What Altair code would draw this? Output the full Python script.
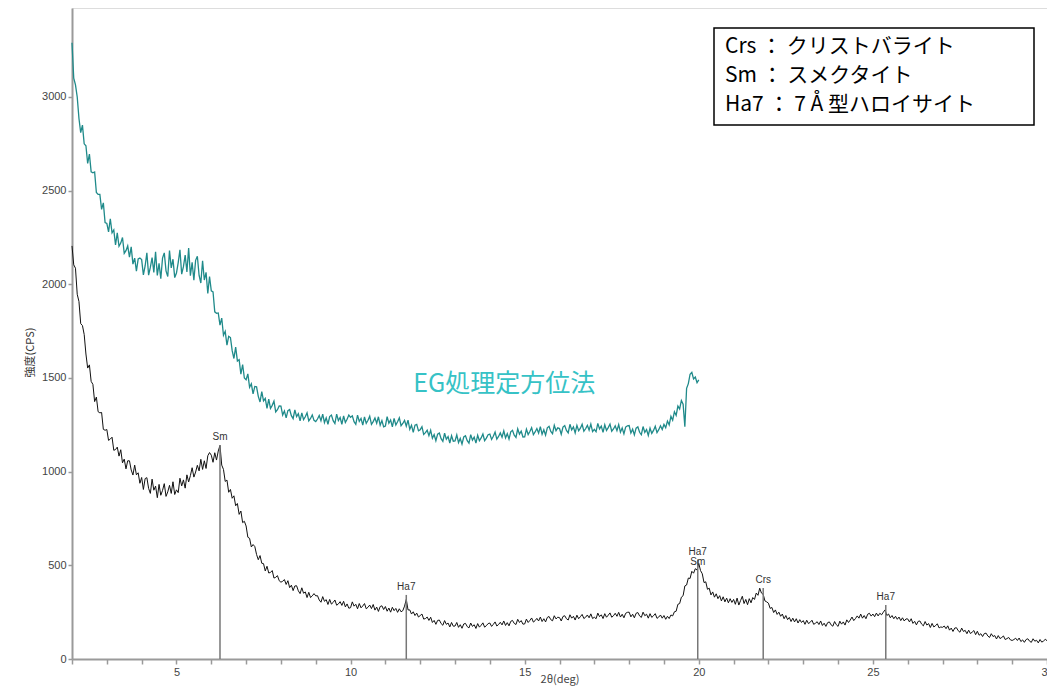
import altair as alt
import pandas as pd

# ---- data (step 0.05 deg) ----
x_start = 2.0
x_step = 0.05

black_cps = [
    # 2.00 - 2.95
    2205, 2104, 2086, 1947, 1908, 1790, 1780, 1732, 1628, 1553, 1570, 1482, 1466, 1374, 1398, 1320, 1314, 1316, 1226, 1221,
    # 3.00 - 3.95
    1225, 1167, 1174, 1184, 1114, 1118, 1131, 1083, 1117, 1047, 1067, 1015, 1058, 1058, 1009, 982, 1035, 983, 994, 938,
    # 4.00 - 4.95
    969, 905, 963, 968, 911, 884, 960, 901, 923, 861, 932, 874, 900, 936, 868, 892, 927, 884, 946, 878,
    # 5.00 - 5.95
    903, 888, 965, 924, 956, 912, 983, 945, 979, 1021, 971, 998, 1034, 1004, 1066, 1012, 1058, 1017, 1085, 1102,
    # 6.00 - 6.95
    1088, 1050, 1101, 1062, 1110, 1140, 1035, 1012, 948, 955, 890, 905, 858, 871, 818, 830, 772, 790, 728, 735,
    # 7.00 - 7.95
    710, 650, 644, 598, 611, 600, 558, 530, 552, 511, 509, 470, 495, 459, 462, 472, 432, 436, 445, 418,
    # 8.00 - 8.95
    410, 415, 424, 398, 418, 381, 394, 365, 390, 391, 364, 349, 380, 351, 358, 328, 356, 328, 337, 349,
    # 9.00 - 9.95
    337, 338, 315, 303, 333, 308, 317, 291, 318, 293, 302, 315, 287, 294, 306, 286, 308, 278, 294, 271,
    # 10.00 - 10.95
    274, 305, 282, 292, 268, 296, 273, 283, 296, 268, 276, 288, 269, 291, 261, 277, 254, 280, 284, 264,
    # 11.00 - 11.95
    280, 255, 272, 250, 276, 258, 270, 249, 268, 252, 258, 282, 318, 262, 262, 240, 252, 232, 245, 224,
    # 12.00 - 12.95
    232, 240, 213, 216, 224, 206, 223, 195, 206, 185, 206, 208, 189, 180, 205, 185, 192, 171, 195, 175,
    # 13.00 - 13.95
    176, 195, 169, 183, 164, 187, 190, 173, 166, 192, 174, 183, 163, 189, 170, 180, 193, 170, 178, 189,
    # 14.00 - 14.95
    192, 174, 185, 198, 176, 184, 196, 182, 203, 179, 194, 177, 201, 206, 190, 184, 212, 195, 205, 186,
    # 15.00 - 15.95
    187, 213, 195, 206, 219, 197, 205, 217, 203, 224, 200, 215, 198, 222, 227, 210, 204, 231, 214, 223,
    # 16.00 - 16.95
    221, 203, 227, 231, 215, 208, 236, 218, 228, 208, 234, 215, 226, 238, 216, 223, 235, 220, 241, 216,
    # 17.00 - 17.95
    223, 215, 245, 226, 236, 216, 242, 223, 234, 246, 223, 231, 244, 228, 249, 224, 239, 220, 244, 249,
    # 18.00 - 18.95
    250, 225, 239, 220, 244, 248, 230, 222, 250, 231, 239, 218, 242, 222, 231, 242, 217, 224, 235, 218,
    # 19.00 - 19.95
    232, 212, 228, 216, 235, 230, 252, 255, 292, 296, 330, 338, 390, 395, 432, 430, 468, 458, 482, 475,
    # 20.00 - 20.95
    510, 472, 455, 408, 412, 372, 378, 342, 358, 330, 348, 322, 338, 310, 332, 305, 325, 300, 322, 302,
    # 21.00 - 21.95
    318, 292, 325, 288, 312, 335, 296, 318, 290, 322, 300, 328, 318, 352, 340, 378, 352, 345, 310, 305,
    # 22.00 - 22.95
    298, 270, 275, 248, 262, 238, 250, 228, 240, 215, 232, 210, 222, 200, 218, 198, 215, 192, 210, 195,
    # 23.00 - 23.95
    205, 185, 207, 189, 196, 207, 185, 191, 199, 184, 203, 179, 191, 174, 194, 198, 182, 175, 200, 183,
    # 24.00 - 24.95
    174, 202, 186, 198, 181, 209, 195, 208, 224, 205, 216, 230, 218, 240, 218, 232, 215, 239, 244, 229,
    # 25.00 - 25.95
    240, 226, 245, 230, 244, 236, 250, 262, 232, 240, 220, 232, 215, 228, 212, 224, 205, 220, 203, 214,
    # 26.00 - 26.95
    214, 198, 215, 190, 201, 182, 201, 203, 186, 177, 200, 181, 189, 168, 190, 171, 178, 188, 166, 171,
    # 27.00 - 27.95
    169, 176, 162, 177, 154, 165, 147, 165, 167, 151, 143, 165, 147, 153, 135, 154, 136, 143, 152, 130,
    # 28.00 - 28.95
    148, 127, 135, 120, 136, 138, 123, 115, 135, 120, 125, 107, 125, 109, 115, 123, 104, 109, 115, 102,
    # 29.00 - 29.95
    99, 104, 111, 99, 112, 93, 102, 89, 104, 108, 95, 89, 108, 95, 100, 86, 104, 90, 96, 105,
    # 30.00
    98,
]

teal_cps = [
    # 2.00 - 2.95
    3290, 3100, 3065, 3000, 2885, 2810, 2850, 2750, 2740, 2645, 2695, 2600, 2595, 2600, 2490, 2480, 2480, 2400, 2435, 2330,
    # 3.00 - 3.95
    2325, 2280, 2350, 2275, 2290, 2210, 2275, 2203, 2220, 2250, 2165, 2180, 2205, 2145, 2200, 2108, 2140, 2070, 2135, 2140,
    # 4.00 - 4.95
    2132, 2050, 2098, 2168, 2049, 2090, 2143, 2064, 2173, 2048, 2112, 2030, 2140, 2168, 2072, 2042, 2180, 2088, 2134, 2036,
    # 5.00 - 5.95
    2060, 2116, 2184, 2054, 2094, 2156, 2066, 2194, 2046, 2117, 2022, 2128, 2150, 2047, 2007, 2125, 2023, 2064, 1951, 2042,
    # 6.00 - 6.95
    1965, 1960, 1853, 1845, 1847, 1782, 1820, 1728, 1749, 1675, 1722, 1716, 1646, 1604, 1665, 1591, 1598, 1520, 1572, 1500,
    # 7.00 - 7.95
    1491, 1522, 1450, 1469, 1415, 1455, 1453, 1402, 1372, 1427, 1378, 1391, 1338, 1387, 1338, 1354, 1377, 1319, 1331, 1351,
    # 8.00 - 8.95
    1350, 1302, 1324, 1287, 1326, 1332, 1299, 1283, 1330, 1294, 1309, 1271, 1314, 1278, 1293, 1314, 1271, 1284, 1303, 1274,
    # 9.00 - 9.95
    1267, 1281, 1300, 1272, 1307, 1262, 1287, 1253, 1294, 1302, 1272, 1257, 1307, 1273, 1289, 1253, 1298, 1263, 1280, 1302,
    # 10.00 - 10.95
    1290, 1298, 1267, 1253, 1302, 1268, 1284, 1248, 1292, 1258, 1274, 1296, 1253, 1267, 1286, 1258, 1293, 1248, 1273, 1239,
    # 11.00 - 11.95
    1244, 1294, 1259, 1276, 1239, 1284, 1249, 1266, 1287, 1245, 1257, 1274, 1243, 1275, 1226, 1248, 1210, 1248, 1252, 1218,
    # 12.00 - 12.95
    1224, 1240, 1199, 1208, 1221, 1192, 1221, 1178, 1198, 1165, 1200, 1206, 1176, 1162, 1205, 1173, 1187, 1153, 1192, 1162,
    # 13.00 - 13.95
    1164, 1196, 1155, 1177, 1147, 1185, 1192, 1165, 1152, 1198, 1168, 1184, 1152, 1194, 1165, 1180, 1201, 1165, 1179, 1197,
    # 14.00 - 14.95
    1201, 1172, 1189, 1211, 1174, 1188, 1207, 1184, 1218, 1180, 1203, 1174, 1213, 1221, 1195, 1183, 1229, 1200, 1216, 1185,
    # 15.00 - 15.95
    1186, 1227, 1198, 1214, 1235, 1198, 1212, 1230, 1206, 1240, 1200, 1224, 1195, 1234, 1242, 1215, 1203, 1248, 1219, 1234,
    # 16.00 - 16.95
    1230, 1200, 1238, 1246, 1220, 1207, 1253, 1223, 1239, 1207, 1247, 1218, 1232, 1253, 1216, 1229, 1247, 1222, 1254, 1214,
    # 17.00 - 17.95
    1226, 1213, 1258, 1228, 1243, 1210, 1250, 1220, 1235, 1254, 1216, 1228, 1245, 1219, 1251, 1211, 1233, 1202, 1238, 1245,
    # 18.00 - 18.95
    1246, 1206, 1227, 1196, 1232, 1239, 1210, 1197, 1241, 1210, 1225, 1193, 1232, 1204, 1220, 1242, 1208, 1224, 1245, 1225,
    # 19.00 - 19.95
    1252, 1235, 1270, 1250, 1295, 1275, 1320, 1300, 1350, 1335, 1380, 1360, 1240, 1445, 1470, 1520, 1530, 1495, 1505, 1475,
    # 20.00
    1490,
]

peak_pos = [6.25, 11.6, 19.97, 21.85, 25.37]
peak_top = [1142, 342, 529, 379, 288]
peak_label = ["Sm", "Ha7", "Ha7\nSm", "Crs", "Ha7"]

legend_lines = ["Crs ： クリストバライト", "Sm ： スメクタイト", "Ha7 ： 7 Å 型ハロイサイト"]

sample_label = ["EG処理定方位法"]
sample_label_x = [11.8]
sample_label_y = [1467]

x_ticks = list(range(2, 31))
y_ticks = [0, 500, 1000, 1500, 2000, 2500, 3000]

# ---- tables ----
df_black = pd.DataFrame({
    "x": [round(x_start + i * x_step, 3) for i in range(len(black_cps))],
    "y": black_cps,
})
df_teal = pd.DataFrame({
    "x": [round(x_start + i * x_step, 3) for i in range(len(teal_cps))],
    "y": teal_cps,
})
df_peaks = pd.DataFrame({"x": peak_pos, "y": peak_top, "base": [0] * len(peak_pos), "label": peak_label})
df_sample = pd.DataFrame({"x": sample_label_x, "y": sample_label_y, "t": sample_label})
df_legend = pd.DataFrame({"t": ["\n".join(legend_lines)]})

AXIS_COLOR = "#9a9a9a"
LABEL_COLOR = "#444444"

x_scale = alt.Scale(domain=[2, 30], nice=False, zero=False)
y_scale = alt.Scale(domain=[0, 3475], nice=False)

x_axis = alt.Axis(
    values=x_ticks,
    labelExpr="datum.value % 5 === 0 ? datum.label : ''",
    format="d",
    grid=False,
    domainColor=AXIS_COLOR, domainWidth=2,
    tickColor=AXIS_COLOR, tickWidth=1.5, tickSize=5,
    labelFont="Liberation Sans", labelFontSize=11, labelColor=LABEL_COLOR, labelPadding=2,
    labelFlush=False, labelOverlap=False,
    title="2θ(deg)", titleFont="Noto Sans CJK JP", titleFontSize=11, titleFontWeight="normal",
    titleColor=LABEL_COLOR, titleY=25, titleBaseline="bottom",
)
y_axis = alt.Axis(
    values=y_ticks,
    format="d",
    grid=False,
    domainColor=AXIS_COLOR, domainWidth=2,
    tickColor=AXIS_COLOR, tickWidth=1.5, tickSize=4,
    labelFont="Liberation Sans", labelFontSize=11, labelColor=LABEL_COLOR, labelPadding=2,
    labelFlush=False, labelOverlap=False,
    title="強度(CPS)", titleFont="Noto Sans CJK JP", titleFontSize=11, titleFontWeight="normal",
    titleColor="#333333", titleX=-42, titleY=344, titleBaseline="middle", titleAngle=-90,
)

X = alt.X("x:Q", scale=x_scale, axis=x_axis)
Y = alt.Y("y:Q", scale=y_scale, axis=y_axis)

teal_line = alt.Chart(df_teal).mark_line(color="#1f8a8a", strokeWidth=1.3).encode(x=X, y=Y)
black_line = alt.Chart(df_black).mark_line(color="#111111", strokeWidth=1).encode(x=X, y=Y)
peak_rules = alt.Chart(df_peaks).mark_rule(color="#777777", strokeWidth=1.5).encode(
    x=X, y=Y, y2="base:Q",
)
peak_text = alt.Chart(df_peaks).mark_text(
    font="Liberation Sans", fontSize=10, color="#333333", baseline="bottom",
    dy=-3, lineBreak="\n", lineHeight=10,
).encode(x=X, y=Y, text="label:N")

sample_text = alt.Chart(df_sample).mark_text(
    font="Noto Sans CJK JP", fontSize=25, color="#36c2c6", align="left", baseline="middle",
).encode(x=X, y=Y, text="t:N")

legend_box = alt.Chart(df_legend).mark_rect(fill="white", stroke="black", strokeWidth=1.5).encode(
    x=alt.value(642), x2=alt.value(962), y=alt.value(20), y2=alt.value(117),
)
legend_text = alt.Chart(df_legend).mark_text(
    font="Noto Sans CJK JP", fontSize=21, color="black", align="left", baseline="middle",
    lineBreak="\n", lineHeight=29,
).encode(x=alt.value(653), y=alt.value(39), text="t:N")

chart = alt.layer(
    teal_line, black_line, peak_rules, peak_text, sample_text, legend_box, legend_text
).properties(
    width=975, height=651,
    padding={"left": 64, "top": 0, "right": 0, "bottom": 28},
    autosize=alt.AutoSizeParams(type="none"),
).configure_view(
    stroke="#aaaaaa", strokeWidth=1.5,
).configure(background="white")

chart.save("out.html", embed_options={"renderer": "svg", "actions": False})
